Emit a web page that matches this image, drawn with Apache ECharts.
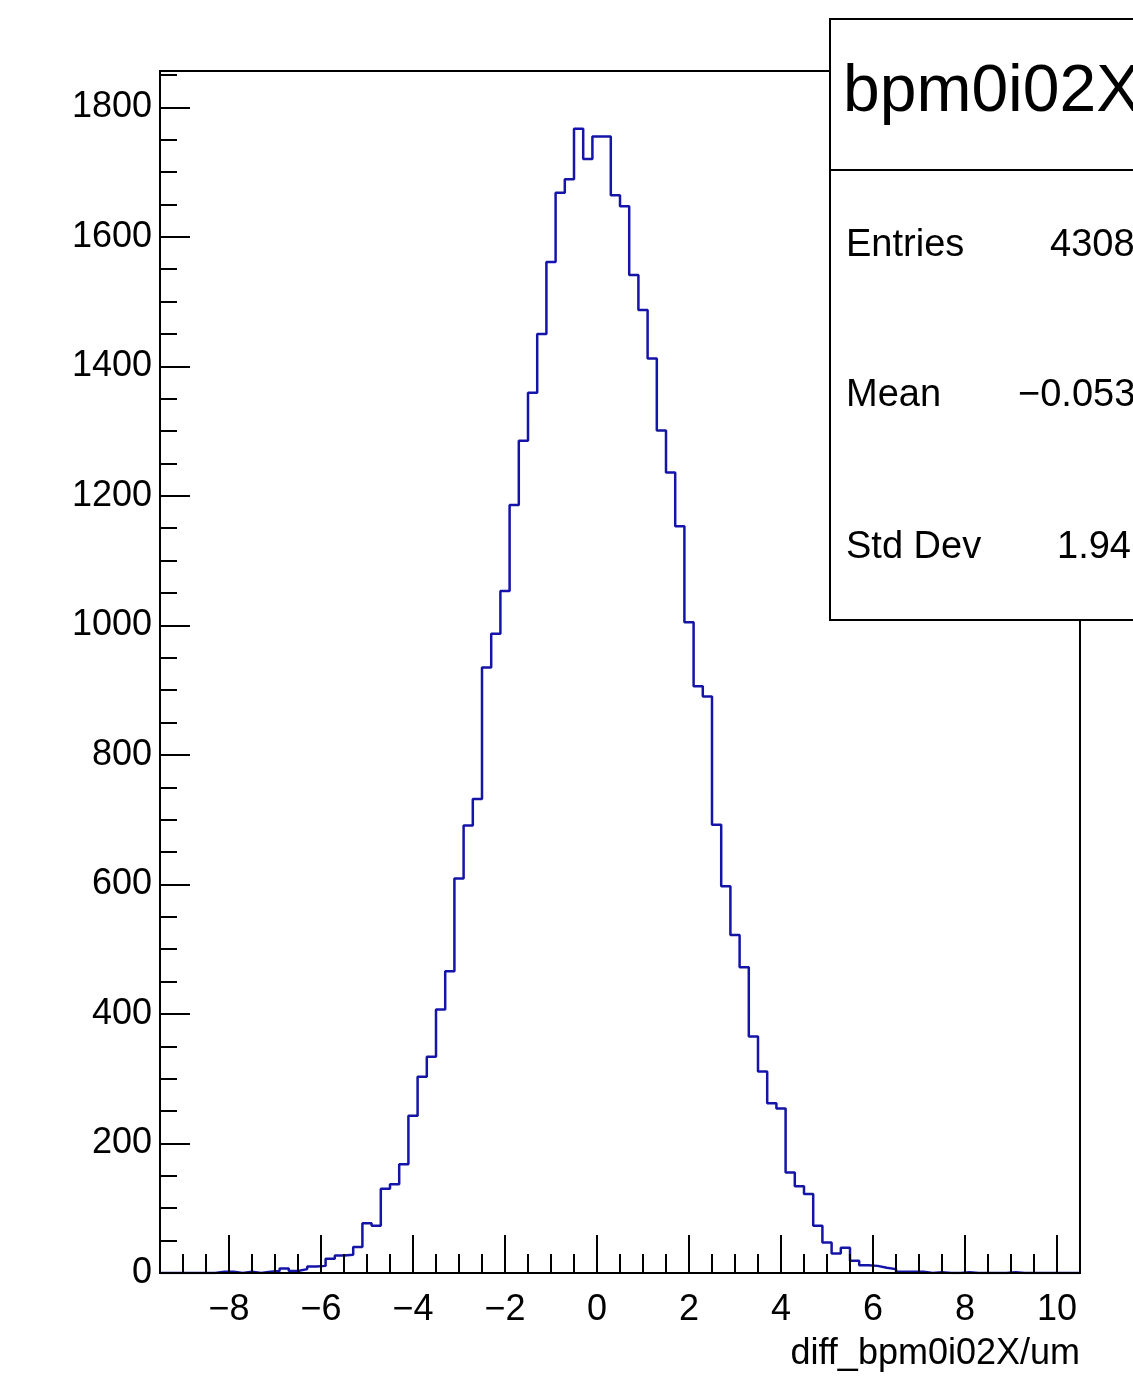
<!DOCTYPE html>
<html>
<head>
<meta charset="utf-8">
<script src="https://cdn.jsdelivr.net/npm/echarts@6/dist/echarts.min.js"></script>
<style>
html,body{margin:0;padding:0;background:#fff;}
#chart{width:1133px;height:1376px;}
</style>
</head>
<body>
<div id="chart"></div>
<script>
// Histogram definition (100 bins from -9.5 to 10.5)
const binLow = -9.5;
const binHigh = 10.5;
const binWidth = 0.2;
const counts = [
  0,0,0,0,0,0,2,2,0,2,
  0,2,3,7,3,6,10,11,22,27,
  28,40,77,73,130,137,168,243,303,334,
  407,466,609,691,732,935,987,1053,1186,1285,
  1359,1450,1561,1668,1689,1767,1720,1755,1755,1664,
  1647,1541,1487,1412,1301,1236,1153,1005,906,890,
  692,597,522,472,365,311,262,254,155,134,
  122,73,47,30,39,19,12,11,8,6,
  2,2,2,0,1,0,0,1,0,0,
  0,0,1,0,0,0,0,0,0,0
];
const yMax = 1856;
const xMajorTicks = [-8,-6,-4,-2,0,2,4,6,8,10];
const xMinorTicks = [-9,-8.5,-7.5,-7,-6.5,-5.5,-5,-4.5,-3.5,-3,-2.5,-1.5,-1,-0.5,0.5,1,1.5,2.5,3,3.5,4.5,5,5.5,6.5,7,7.5,8.5,9,9.5];
const yMajorTicks = [0,200,400,600,800,1000,1200,1400,1600,1800];
const yMinorTicks = [50,100,150,250,300,350,450,500,550,650,700,750,850,900,950,1050,1100,1150,1250,1300,1350,1450,1500,1550,1650,1700,1750,1850];
const histTitle = 'bpm0i02X';
const xTitle = 'diff_bpm0i02X/um';
const statLabels = ['Entries', 'Mean', 'Std Dev'];
const statValues = ['43087', '\u22120.0533', '1.946'];

const FONT = '"Liberation Sans", Arial, Helvetica, sans-serif';
const fmt = v => String(v).replace('-', '\u2212');

// step outline points: left edge of every bin, plus closing point at the right edge
const stepData = counts.map((c, i) => [binLow + i * binWidth, c]);
stepData.push([binHigh, counts[counts.length - 1]]);

const chart = echarts.init(document.getElementById('chart'), null, {renderer: 'canvas'});
const gridL = 160, gridT = 71, gridR = 1133 - 1080, gridB = 1376 - 1273;

const option = {
  animation: false,
  backgroundColor: '#ffffff',
  grid: {left: gridL, top: gridT, right: gridR, bottom: gridB, show: true,
         borderColor: '#000', borderWidth: 2, backgroundColor: 'transparent', containLabel: false},
  xAxis: [
    {type: 'value', min: binLow, max: binHigh, position: 'bottom', z: 10,
     splitLine: {show: false},
     axisLine: {show: true, onZero: false, lineStyle: {color: '#000', width: 2}},
     axisTick: {show: true, inside: true, length: 38, customValues: xMajorTicks, lineStyle: {color: '#000', width: 2}},
     axisLabel: {show: true, customValues: xMajorTicks, formatter: fmt, color: '#000', fontSize: 36, fontFamily: FONT, margin: 19}
    },
    {type: 'value', min: binLow, max: binHigh, position: 'bottom', z: 10,
     splitLine: {show: false},
     axisLine: {show: false, onZero: false},
     axisTick: {show: true, inside: true, length: 19, customValues: xMinorTicks, lineStyle: {color: '#000', width: 2}},
     axisLabel: {show: false}
    }
  ],
  yAxis: [
    {type: 'value', min: 0, max: yMax, position: 'left', z: 10,
     splitLine: {show: false},
     axisLine: {show: true, onZero: false, lineStyle: {color: '#000', width: 2}},
     axisTick: {show: true, inside: true, length: 30, customValues: yMajorTicks, lineStyle: {color: '#000', width: 2}},
     axisLabel: {show: true, customValues: yMajorTicks, formatter: fmt, color: '#000', fontSize: 36, fontFamily: FONT, margin: 8}
    },
    {type: 'value', min: 0, max: yMax, position: 'left', z: 10,
     splitLine: {show: false},
     axisLine: {show: false, onZero: false},
     axisTick: {show: true, inside: true, length: 17, customValues: yMinorTicks, lineStyle: {color: '#000', width: 2}},
     axisLabel: {show: false}
    }
  ],
  series: [{
    type: 'line', step: 'end', xAxisIndex: 0, yAxisIndex: 0,
    data: stepData, showSymbol: false, symbol: 'none',
    lineStyle: {color: '#1414a8', width: 2.5}, z: 2
  }],
  graphic: [
    {type: 'text', right: 1133 - 1080, top: 1336, z: 20,
     style: {text: xTitle, fill: '#000', font: '36px ' + FONT, textAlign: 'right'}},
    // stats box
    {type: 'rect', shape: {x: 830, y: 19, width: 320, height: 601}, z: 30,
     style: {fill: '#fff', stroke: '#000', lineWidth: 2}},
    {type: 'line', shape: {x1: 830, y1: 170, x2: 1150, y2: 170}, z: 31,
     style: {stroke: '#000', lineWidth: 2}},
    {type: 'text', x: 843, y: 93, z: 31,
     style: {text: histTitle, fill: '#000', font: '66px ' + FONT, textVerticalAlign: 'middle'}},
    {type: 'text', x: 846, y: 246, z: 31,
     style: {text: statLabels[0], fill: '#000', font: '38px ' + FONT, textVerticalAlign: 'middle'}},
    {type: 'text', x: 846, y: 396, z: 31,
     style: {text: statLabels[1], fill: '#000', font: '38px ' + FONT, textVerticalAlign: 'middle'}},
    {type: 'text', x: 846, y: 548, z: 31,
     style: {text: statLabels[2], fill: '#000', font: '38px ' + FONT, textVerticalAlign: 'middle'}},
    {type: 'text', x: 1050, y: 246, z: 31,
     style: {text: statValues[0], fill: '#000', font: '38px ' + FONT, textVerticalAlign: 'middle'}},
    {type: 'text', x: 1018, y: 396, z: 31,
     style: {text: statValues[1], fill: '#000', font: '38px ' + FONT, textVerticalAlign: 'middle'}},
    {type: 'text', x: 1057, y: 548, z: 31,
     style: {text: statValues[2], fill: '#000', font: '38px ' + FONT, textVerticalAlign: 'middle'}}
  ]
};
chart.setOption(option);
</script>
</body>
</html>
